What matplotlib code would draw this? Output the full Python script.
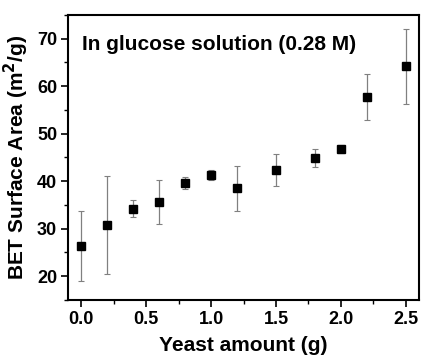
import matplotlib
matplotlib.use("Agg")
import matplotlib.pyplot as plt
from matplotlib.ticker import MultipleLocator, FormatStrFormatter

yeast = [0.0, 0.2, 0.4, 0.6, 0.8, 1.0, 1.2, 1.5, 1.8, 2.0, 2.2, 2.5]
bet = [26.3, 30.8, 34.2, 35.7, 39.7, 41.2, 38.5, 42.3, 44.8, 46.8, 57.8, 64.2]
err_upper = [33.7, 41.1, 36.0, 40.3, 40.9, 42.3, 43.2, 45.7, 46.7, 47.6, 62.6, 72.0]
err_lower = [18.9, 20.5, 32.5, 30.9, 38.3, 40.2, 33.7, 38.9, 42.9, 45.9, 52.9, 56.2]

yerr = [[b - l for b, l in zip(bet, err_lower)], [u - b for b, u in zip(bet, err_upper)]]

plt.rcParams['font.family'] = ['Liberation Sans', 'DejaVu Sans']
plt.rcParams['font.weight'] = 'bold'

fig = plt.figure(figsize=(4.21, 3.57), dpi=100)
ax = fig.add_axes([0.162, 0.16, 0.833, 0.798])

ax.errorbar(yeast, bet, yerr=yerr, fmt='none', ecolor='#808080', elinewidth=0.9,
            capsize=2, capthick=0.8, zorder=1)
ax.plot(yeast, bet, 's', color='black', markersize=6, zorder=2)

ax.set_xlim(-0.1, 2.6)
ax.set_ylim(15, 75)
ax.xaxis.set_major_locator(MultipleLocator(0.5))
ax.xaxis.set_minor_locator(MultipleLocator(0.25))
ax.yaxis.set_minor_locator(MultipleLocator(5))
ax.set_yticks([20, 30, 40, 50, 60, 70])
ax.xaxis.set_major_formatter(FormatStrFormatter('%.1f'))

ax.tick_params(which='major', direction='out', length=5, width=1.2, labelsize=13, pad=3)
ax.tick_params(which='minor', direction='out', length=3, width=1.0)
for lbl in ax.get_xticklabels() + ax.get_yticklabels():
    lbl.set_fontweight('bold')
for s in ax.spines.values():
    s.set_linewidth(1.5)

ax.set_xlabel('Yeast amount (g)', fontsize=15, fontweight='bold', labelpad=6)
ax.set_ylabel('BET Surface Area (m$^\\mathbf{2}$/g)', fontsize=15, fontweight='bold', labelpad=4)
ax.text(0.04, 0.93, 'In glucose solution (0.28 M)', transform=ax.transAxes,
        fontsize=15, fontweight='bold', va='top', ha='left')

fig.savefig('out.png', dpi=100)
